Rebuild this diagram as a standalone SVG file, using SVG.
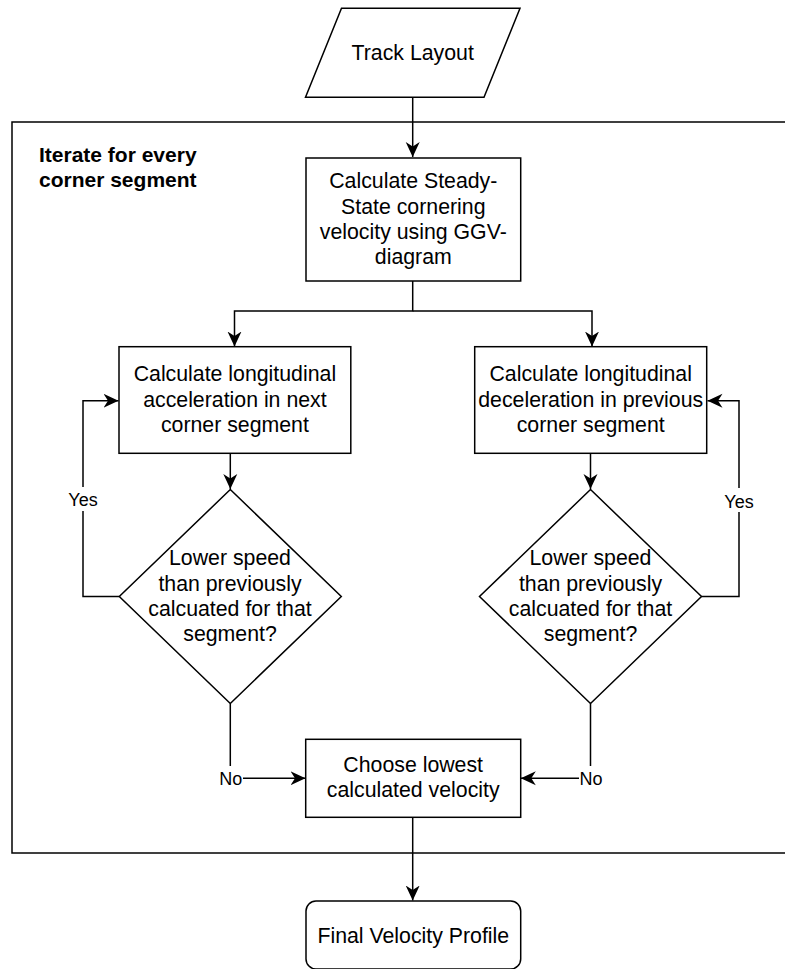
<svg xmlns="http://www.w3.org/2000/svg" width="785" height="969" viewBox="0 0 785 969">
  <style>
    .shape { fill: #ffffff; stroke: #000000; stroke-width: 1.5; }
    .edge { fill: none; stroke: #000000; stroke-width: 1.5; }
    .t { font-family: "Liberation Sans", Arial, Helvetica, sans-serif; font-size: 21.3px; fill: #000000; text-anchor: middle; }
    .lbl { font-family: "Liberation Sans", Arial, Helvetica, sans-serif; font-size: 18px; fill: #000000; text-anchor: middle; }
    .title { font-family: "Liberation Sans", Arial, Helvetica, sans-serif; font-size: 21px; font-weight: bold; fill: #000000; }
    .bg { fill: #ffffff; stroke: none; }
  </style>
  <defs>
    <marker id="arrow" markerUnits="userSpaceOnUse" markerWidth="16" markerHeight="16" refX="15" refY="7.5" orient="auto">
      <path d="M15,7.5 L0,0.5 L4.5,7.5 L0,14.5 Z" fill="#000000" stroke="none"/>
    </marker>
  </defs>
  <rect width="785" height="969" fill="#ffffff"/>

  <g id="container">
    <rect class="shape" x="12" y="122" width="800" height="731"/>
    <text class="title" x="39" y="161.5">Iterate for every</text>
    <text class="title" x="39" y="186.5">corner segment</text>
  </g>

  <g id="connectors">
    <path class="edge" d="M412.7,97.3 L412.7,157" marker-end="url(#arrow)"/>
    <path class="edge" d="M412.7,281 L412.7,311 L234.5,311 L234.5,346.5" marker-end="url(#arrow)"/>
    <path class="edge" d="M412.7,311 L592,311 L592,346.5" marker-end="url(#arrow)"/>
    <path class="edge" d="M230.3,453.3 L230.3,489" marker-end="url(#arrow)"/>
    <path class="edge" d="M590.5,453.3 L590.5,489" marker-end="url(#arrow)"/>
    <path class="edge" d="M119,596.5 L83,596.5 L83,400.7 L118.5,400.7" marker-end="url(#arrow)"/>
    <path class="edge" d="M701.5,596.5 L739,596.5 L739,400.7 L707.5,400.7" marker-end="url(#arrow)"/>
    <path class="edge" d="M230.3,703.5 L230.3,778.3 L305.5,778.3" marker-end="url(#arrow)"/>
    <path class="edge" d="M590.5,703.5 L590.5,778.3 L520.8,778.3" marker-end="url(#arrow)"/>
    <path class="edge" d="M412.7,817.3 L412.7,900.5" marker-end="url(#arrow)"/>
    <rect class="bg" x="67" y="487" width="32" height="24"/>
    <text class="lbl" x="83" y="505.7">Yes</text>
    <rect class="bg" x="723" y="488" width="32" height="24"/>
    <text class="lbl" x="739" y="507.5">Yes</text>
    <rect class="bg" x="218" y="766" width="25" height="24"/>
    <text class="lbl" x="230.8" y="785">No</text>
    <rect class="bg" x="579" y="766" width="25" height="24"/>
    <text class="lbl" x="591" y="785">No</text>
  </g>

  <g id="track-layout">
    <polygon class="shape" points="341.5,8.3 520,8.3 484,97.3 305.5,97.3"/>
    <text class="t" x="412.7" y="59.5">Track Layout</text>
  </g>

  <g id="steady-state">
    <rect class="shape" x="306" y="158" width="214.7" height="123"/>
    <text class="t" x="413.3" y="188.2">Calculate Steady-</text>
    <text class="t" x="413.3" y="213.5">State cornering</text>
    <text class="t" x="413.3" y="238.8">velocity using GGV-</text>
    <text class="t" x="413.3" y="264.2">diagram</text>
  </g>

  <g id="acceleration">
    <rect class="shape" x="119" y="346.7" width="231.8" height="106.6"/>
    <text class="t" x="234.9" y="381.4">Calculate longitudinal</text>
    <text class="t" x="234.9" y="406.7">acceleration in next</text>
    <text class="t" x="234.9" y="432">corner segment</text>
  </g>

  <g id="deceleration">
    <rect class="shape" x="474.7" y="346.7" width="232" height="106.6"/>
    <text class="t" x="590.7" y="381.4">Calculate longitudinal</text>
    <text class="t" x="590.7" y="406.7">deceleration in previous</text>
    <text class="t" x="590.7" y="432">corner segment</text>
  </g>

  <g id="decision-left">
    <polygon class="shape" points="230.3,489.5 341.3,596.5 230.3,703.5 119.3,596.5"/>
    <text class="t" x="230" y="565.2">Lower speed</text>
    <text class="t" x="230" y="590.6">than previously</text>
    <text class="t" x="230" y="615.9">calcuated for that</text>
    <text class="t" x="230" y="641.2">segment?</text>
  </g>

  <g id="decision-right">
    <polygon class="shape" points="590.5,489.5 701.5,596.5 590.5,703.5 479.5,596.5"/>
    <text class="t" x="590.5" y="565.2">Lower speed</text>
    <text class="t" x="590.5" y="590.6">than previously</text>
    <text class="t" x="590.5" y="615.9">calcuated for that</text>
    <text class="t" x="590.5" y="641.2">segment?</text>
  </g>

  <g id="choose-lowest">
    <rect class="shape" x="305.7" y="739.3" width="215" height="78"/>
    <text class="t" x="413.2" y="772.1">Choose lowest</text>
    <text class="t" x="413.2" y="797.4">calculated velocity</text>
  </g>

  <g id="final-profile">
    <rect class="shape" x="306" y="901" width="214.7" height="68" rx="10" ry="10"/>
    <text class="t" x="413.3" y="942.7">Final Velocity Profile</text>
  </g>
</svg>
